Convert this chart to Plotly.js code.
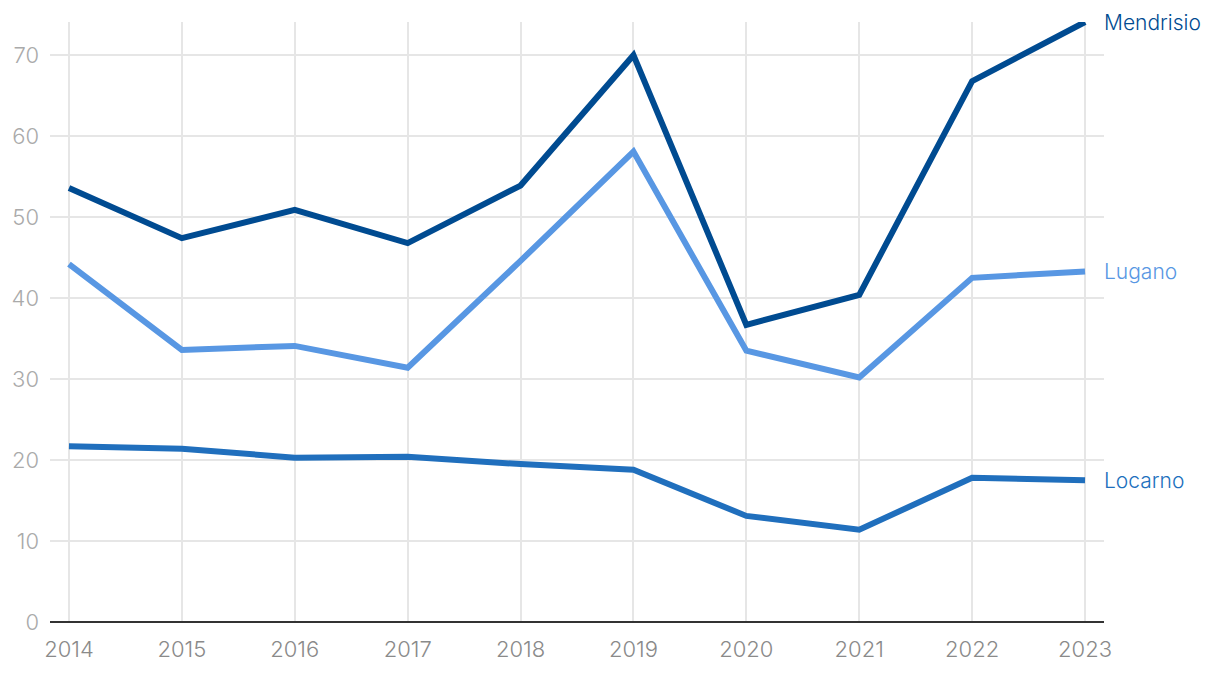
<!DOCTYPE html>
<html>
<head>
<meta charset="utf-8">
<script src="https://cdn.plot.ly/plotly-3.0.1.min.js"></script>
<style>html,body{margin:0;padding:0;background:#fff;}#chart{width:1220px;height:674px;}</style>
</head>
<body>
<div id="chart"></div>
<script>
const years = [2014, 2015, 2016, 2017, 2018, 2019, 2020, 2021, 2022, 2023];
const mendrisio = [53.6, 47.4, 50.9, 46.8, 53.9, 70.0, 36.7, 40.4, 66.8, 74.1];
const lugano = [44.2, 33.6, 34.1, 31.4, 44.6, 58.1, 33.5, 30.2, 42.5, 43.3];
const locarno = [21.7, 21.4, 20.3, 20.4, 19.5, 18.8, 13.1, 11.4, 17.8, 17.5];
const seriesNames = ["Mendrisio", "Lugano", "Locarno"];
const seriesColors = ["#004b91", "#5897e3", "#206fbd"];
const seriesValues = [mendrisio, lugano, locarno];
const yTicks = [0, 10, 20, 30, 40, 50, 60, 70];

const FONT = "Inter, Roboto, sans-serif";

const traces = seriesValues.map((v, i) => ({
  x: years, y: v, type: "scatter", mode: "lines",
  name: seriesNames[i], cliponaxis: false,
  line: {color: seriesColors[i], width: 6},
  hoverinfo: "x+y+name"
})).reverse();

const annotations = seriesValues.map((v, i) => ({
  x: years[years.length - 1], y: v[v.length - 1],
  xref: "x", yref: "y", text: seriesNames[i],
  showarrow: false, xanchor: "left", yanchor: "middle", xshift: 17,
  font: {family: FONT, size: 21, weight: 300, color: seriesColors[i]}
}));

const layout = {
  width: 1220, height: 674,
  margin: {l: 50, r: 116, t: 22, b: 52},
  paper_bgcolor: "#fff", plot_bgcolor: "#fff",
  showlegend: false,
  font: {family: FONT},
  xaxis: {
    range: [2013.832, 2023.168],
    tickvals: years, ticktext: years.map(String),
    showgrid: true, gridcolor: "#e6e6e6", gridwidth: 2,
    zeroline: false, showline: false, ticks: "",
    ticklabelstandoff: 12,
    tickfont: {family: FONT, size: 22, weight: 300, color: "#8a8a8a"}
  },
  yaxis: {
    range: [0, 74.1],
    tickvals: yTicks,
    showgrid: true, gridcolor: "#e6e6e6", gridwidth: 2,
    zeroline: true, zerolinecolor: "#333", zerolinewidth: 2,
    showline: false, ticks: "",
    ticklabelstandoff: 10,
    tickfont: {family: FONT, size: 22, weight: 300, color: "#aaaaaa"}
  },
  annotations: annotations
};

Plotly.newPlot("chart", traces, layout, {displayModeBar: false, staticPlot: true});
</script>
</body>
</html>
